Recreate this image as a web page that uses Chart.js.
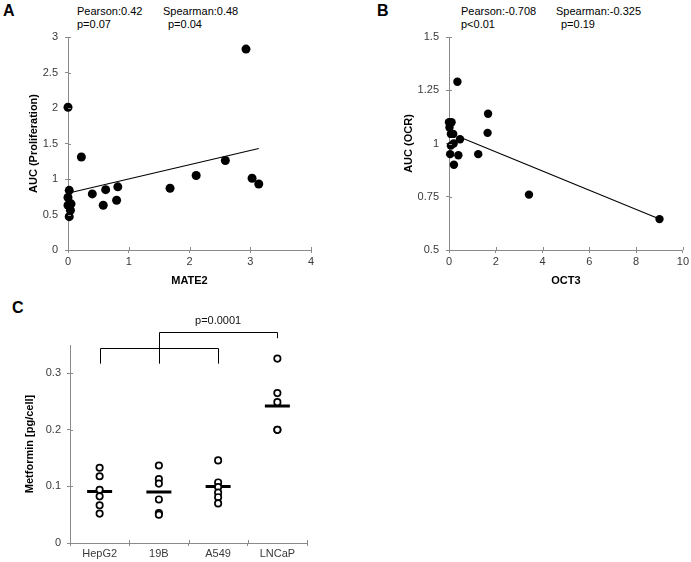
<!DOCTYPE html>
<html>
<head>
<meta charset="utf-8">
<script src="https://cdn.jsdelivr.net/npm/chart.js@4.4.1/dist/chart.umd.min.js"></script>
<style>
  html, body { margin:0; padding:0; background:#fff; }
  body { width:691px; height:562px; position:relative; overflow:hidden; font-family:"Liberation Sans", Arial, sans-serif; -webkit-font-smoothing:antialiased; }
  canvas { position:absolute; }
  .t { position:absolute; white-space:pre; font-size:11px; line-height:13px; color:#000; }
  .L { position:absolute; font-weight:bold; font-size:16px; line-height:16px; color:#000; }
</style>
</head>
<body>
<div class="L" style="left:3px;top:3px">A</div>
<div class="t" style="left:77px;top:5px">Pearson:0.42
p=0.07</div>
<div class="t" style="left:163px;top:5px">Spearman:0.48</div>
<div class="t" style="left:168px;top:18px">p=0.04</div>

<div class="L" style="left:377px;top:3px">B</div>
<div class="t" style="left:461px;top:5px">Pearson:-0.708
p&lt;0.01</div>
<div class="t" style="left:556px;top:5px">Spearman:-0.325</div>
<div class="t" style="left:561px;top:18px">p=0.19</div>

<div class="L" style="left:12px;top:300px">C</div>

<canvas id="cA" width="350" height="295" style="left:0;top:0"></canvas>
<canvas id="cB" width="341" height="295" style="left:350px;top:0"></canvas>
<canvas id="cC" width="360" height="267" style="left:0;top:295px"></canvas>

<script>
// ---------- Panel A data ----------
const mate2 = [2.93, 0, 0.22, 2.59, 2.11, 3.03, 3.14, 1.68, 0.82, 0.80, 0.62, 0.58, 0.40, 0.02, 0, 0, 0.05, 0.04, 0.02];
const aucProlif = [2.83, 2.01, 1.31, 1.26, 1.05, 1.01, 0.93, 0.87, 0.89, 0.70, 0.85, 0.63, 0.79, 0.84, 0.74, 0.63, 0.65, 0.56, 0.47];
const trendA_x = [0.03, 3.14];
const trendA_y = [0.806, 1.43];

// ---------- Panel B data ----------
const oct3 = [9.0, 3.42, 1.67, 1.65, 1.25, 0.36, 0.47, 0.40, 0.18, 0.20, 0.21, 0.11, 0.0, 0.02, 0.08, 0.08, 0.05];
const aucOCR = [0.645, 0.76, 1.14, 1.05, 0.95, 1.29, 1.02, 0.945, 1.045, 1.0, 0.90, 1.10, 1.10, 1.075, 1.045, 0.99, 0.95];
const trendB_x = [0.45, 9.0];
const trendB_y = [1.03, 0.645];

// ---------- Panel C data ----------
const cellLines = ['HepG2', '19B', 'A549', 'LNCaP'];
const metHepG2 = [0.133, 0.118, 0.094, 0.0825, 0.0666, 0.052];
const met19B   = [0.137, 0.113, 0.105, 0.077, 0.053, 0.050];
const metA549  = [0.146, 0.107, 0.099, 0.089, 0.081, 0.070];
const metLNCaP = [0.326, 0.265, 0.249, 0.200, 0.200];
const metMeans = [0.091, 0.090, 0.100, 0.242];
// significance brackets (category index, y values)
const bracketFrom = [0, 1];
const bracketTo   = [2, 3];
const bracketTop  = [0.345, 0.373];
const bracketLegL = [0.317, 0.317];
const bracketLegR = [0.317, 0.362];
const pLabel = 'p=0.0001';
const pLabelCat = 2;
const pLabelY = 0.393;

// ---------- styling ----------
const AXIS = '#8a8a8a';
const TICKC = '#3a3a3a';
Chart.defaults.font.family = '"Liberation Sans", Arial, sans-serif';
Chart.defaults.font.size = 11;
Chart.defaults.color = TICKC;
const fmt = v => String(+Number(v).toFixed(3));

const innerTicks = {
  id: 'innerTicks',
  afterDraw(chart) {
    const ctx = chart.ctx, a = chart.chartArea;
    const xs = chart.scales.x, ys = chart.scales.y;
    ctx.save();
    ctx.strokeStyle = AXIS; ctx.lineWidth = 1;
    ctx.beginPath();
    ys.ticks.forEach((t, i) => {
      const y = Math.round(ys.getPixelForTick(i)) + 0.5;
      ctx.moveTo(a.left, y); ctx.lineTo(a.left + 3, y);
    });
    if (xs.type === 'category') {
      const n = xs.getLabels().length;
      for (let i = 0; i <= n; i++) {
        const x = Math.round(xs.left + i * xs.width / n) + 0.5;
        ctx.moveTo(x, a.bottom); ctx.lineTo(x, a.bottom - 3);
      }
    } else {
      xs.ticks.forEach((t, i) => {
        const x = Math.round(xs.getPixelForTick(i)) + 0.5;
        ctx.moveTo(x, a.bottom); ctx.lineTo(x, a.bottom - 3);
      });
    }
    ctx.stroke();
    ctx.restore();
  }
};

function axisOpts(min, max, step, title, titlePad, w, isX, tickPad) {
  return {
    type: 'linear', min, max,
    ticks: { stepSize: step, color: TICKC, padding: tickPad, font: { size: 11 }, callback: fmt },
    grid: { display: true, drawOnChartArea: false, drawTicks: true, tickLength: 3, color: AXIS },
    border: { display: true, color: AXIS, width: 1 },
    title: { display: true, text: title, color: '#000', font: { size: 11, weight: 'bold' }, padding: titlePad },
    afterFit(s) { if (isX) s.height = w; else s.width = w; }
  };
}

function scatterChart(id, xs, ys, tx, ty, xopt, yopt, pad, r) {
  return new Chart(document.getElementById(id), {
    type: 'scatter',
    data: {
      datasets: [
        { data: xs.map((x, i) => ({ x, y: ys[i] })), pointRadius: r, pointHoverRadius: r, clip: false,
          backgroundColor: '#000', borderColor: '#000', borderWidth: 0 },
        { type: 'line', data: tx.map((x, i) => ({ x, y: ty[i] })), showLine: true, pointRadius: 0,
          borderColor: '#000', borderWidth: 1.1, fill: false }
      ]
    },
    options: {
      responsive: false, animation: false, devicePixelRatio: 1,
      layout: { padding: pad },
      plugins: { legend: { display: false }, tooltip: { enabled: false } },
      scales: { x: xopt, y: yopt }
    },
    plugins: [innerTicks]
  });
}

scatterChart('cA', mate2, aucProlif, trendA_x, trendA_y,
  axisOpts(0, 4, 1, 'MATE2', { top: 0, bottom: 7 }, 45, true, 2),
  axisOpts(0, 3, 0.5, 'AUC (Proliferation)', { top: 27, bottom: 0 }, 68, false, 7),
  { left: 0, top: 37, right: 39, bottom: 0 }, 4.5);

scatterChart('cB', oct3, aucOCR, trendB_x, trendB_y,
  axisOpts(0, 10, 2, 'OCT3', { top: 0, bottom: 7 }, 45, true, 2),
  axisOpts(0.5, 1.5, 0.25, 'AUC (OCR)', { top: 52, bottom: 0 }, 99, false, 7),
  { left: 0, top: 37, right: 8, bottom: 0 }, 4.2);

// ---------- Panel C ----------
const groups = [metHepG2, met19B, metA549, metLNCaP];
const cPoints = [];
groups.forEach((g, i) => g.forEach(v => cPoints.push({ x: cellLines[i], y: v })));

const brackets = {
  id: 'brackets',
  afterDraw(chart) {
    const ctx = chart.ctx, xs = chart.scales.x, ys = chart.scales.y;
    ctx.save();
    ctx.strokeStyle = '#000'; ctx.lineWidth = 1;
    for (let k = 0; k < bracketFrom.length; k++) {
      const x1 = Math.round(xs.getPixelForValue(bracketFrom[k])) + 0.5;
      const x2 = Math.round(xs.getPixelForValue(bracketTo[k])) + 0.5;
      const yt = Math.round(ys.getPixelForValue(bracketTop[k])) + 0.5;
      ctx.beginPath();
      ctx.moveTo(x1, ys.getPixelForValue(bracketLegL[k]));
      ctx.lineTo(x1, yt); ctx.lineTo(x2, yt);
      ctx.lineTo(x2, ys.getPixelForValue(bracketLegR[k]));
      ctx.stroke();
    }
    ctx.fillStyle = '#111';
    ctx.font = '11px "Liberation Sans", Arial, sans-serif';
    ctx.textAlign = 'center'; ctx.textBaseline = 'middle';
    ctx.fillText(pLabel, xs.getPixelForValue(pLabelCat), ys.getPixelForValue(pLabelY));
    ctx.restore();
  }
};

new Chart(document.getElementById('cC'), {
  type: 'line',
  data: {
    labels: cellLines,
    datasets: [
      { data: cPoints, showLine: false, pointRadius: 3.2, pointHoverRadius: 3.2, clip: false,
        backgroundColor: '#fff', borderColor: '#000', pointBorderWidth: 1.7 },
      { data: metMeans.map((m, i) => ({ x: cellLines[i], y: m })), showLine: false,
        pointStyle: 'line', pointRadius: 12.5, pointHoverRadius: 12.5,
        borderColor: '#000', pointBorderWidth: 3 }
    ]
  },
  options: {
    responsive: false, animation: false, devicePixelRatio: 1,
    layout: { padding: { left: 0, top: 50, right: 53, bottom: 0 } },
    plugins: { legend: { display: false }, tooltip: { enabled: false } },
    scales: {
      x: {
        type: 'category', offset: true,
        ticks: { color: TICKC, padding: 1, font: { size: 11 } },
        grid: { display: true, offset: true, drawOnChartArea: false, tickLength: 3, color: AXIS },
        border: { display: true, color: AXIS, width: 1 },
        afterFit(s) { s.height = 19; }
      },
      y: {
        type: 'linear', min: 0, max: 0.35,
        ticks: { stepSize: 0.1, includeBounds: false, color: TICKC, padding: 6, font: { size: 11 }, callback: fmt },
        grid: { display: true, drawOnChartArea: false, tickLength: 3, color: AXIS },
        border: { display: true, color: AXIS, width: 1 },
        title: { display: true, text: 'Metformin [pg/cell]', color: '#000', font: { size: 11, weight: 'bold' }, padding: { top: 23, bottom: 0 } },
        afterFit(s) { s.width = 70; }
      }
    }
  },
  plugins: [innerTicks, brackets]
});
</script>
</body>
</html>
